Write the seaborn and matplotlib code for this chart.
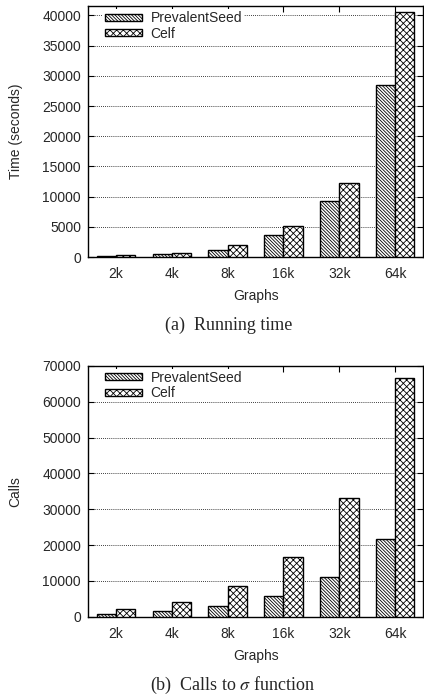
import matplotlib
matplotlib.use("Agg")
import matplotlib.pyplot as plt
from matplotlib.patches import Patch
import seaborn as sns
import pandas as pd

graphs = ["2k", "4k", "8k", "16k", "32k", "64k"]
methods = ["PrevalentSeed", "Celf"]
time_prevalent = [220, 610, 1270, 3700, 9340, 28560]
time_celf = [440, 720, 2040, 5080, 12320, 40610]
calls_prevalent = [745, 1580, 2980, 5680, 10990, 21600]
calls_celf = [2140, 4280, 8470, 16670, 33150, 66570]

sns.set_theme(style="white")
plt.rcParams["font.family"] = ["Liberation Sans", "DejaVu Sans"]
plt.rcParams["hatch.linewidth"] = 0.6
plt.rcParams["hatch.color"] = "black"
plt.rcParams["mathtext.fontset"] = "stix"

hatches = {"PrevalentSeed": "\\" * 10, "Celf": "xxxxx"}

fig = plt.figure(figsize=(4.24, 6.97), dpi=100)
ax1 = fig.add_axes([0.2075, 0.631, 0.7905, 0.360])
ax2 = fig.add_axes([0.2075, 0.115, 0.7905, 0.360])

FS = 10


def draw(ax, p_vals, c_vals, ylabel, ymax, yticks):
    df = pd.DataFrame({
        "Graphs": graphs * 2,
        "Method": [methods[0]] * len(graphs) + [methods[1]] * len(graphs),
        "Value": list(p_vals) + list(c_vals),
    })
    sns.barplot(data=df, x="Graphs", y="Value", hue="Method", ax=ax,
                width=0.69, gap=0, palette=["white", "white"],
                edgecolor="black", linewidth=1.0, legend=False, zorder=3)
    n = len(graphs)
    for i, bar in enumerate(ax.patches[:2 * n]):
        m = methods[i // n]
        bar.set_hatch(hatches[m])
        bar.set_edgecolor("black")
        bar.set_facecolor("white")
    ax.set_xlim(-0.5, 5.5)
    ax.set_ylim(0, ymax)
    ax.set_yticks(yticks)
    ax.set_yticklabels([str(v) for v in yticks])
    ax.set_xlabel("Graphs", fontsize=FS, labelpad=6)
    ax.set_ylabel(ylabel, fontsize=FS, labelpad=14)
    ax.tick_params(axis="both", which="both", direction="in", length=4,
                   width=0.8, labelsize=FS, top=True, right=True,
                   left=True, bottom=True, color="black", pad=5)
    ax.tick_params(axis="x", bottom=False, pad=7)
    for s in ax.spines.values():
        s.set_color("black")
        s.set_linewidth(1.0)
        s.set_visible(True)
    ax.yaxis.grid(True, linestyle=(0, (1, 1.5)), color="black", linewidth=0.6)
    ax.set_axisbelow(True)
    handles = [Patch(facecolor="white", edgecolor="black", hatch=hatches[m],
                     label=m) for m in methods]
    leg = ax.legend(handles=handles, loc="upper left", frameon=True,
                    fontsize=FS, handlelength=2.7, handleheight=0.4,
                    borderpad=0.15, labelspacing=0.1, handletextpad=0.6,
                    borderaxespad=0.2, bbox_to_anchor=(0.035, 1.0))
    leg.get_frame().set_edgecolor("white")
    leg.get_frame().set_linewidth(0)
    leg.get_frame().set_facecolor("white")
    leg.get_frame().set_alpha(1)
    leg.set_zorder(5)


draw(ax1, time_prevalent, time_celf, "Time (seconds)", 41500,
     [0, 5000, 10000, 15000, 20000, 25000, 30000, 35000, 40000])
draw(ax2, calls_prevalent, calls_celf, "Calls", 70000,
     [0, 10000, 20000, 30000, 40000, 50000, 60000, 70000])

serif = ["Liberation Serif", "DejaVu Serif"]
fig.text(0.54, 1 - 325 / 697, "(a)  Running time", ha="center", va="center",
         fontsize=13, family=serif)
fig.text(0.548, 1 - 685 / 697, r"(b)  Calls to $\sigma$ function", ha="center",
         va="center", fontsize=13, family=serif)

fig.savefig("out.png", dpi=100)
